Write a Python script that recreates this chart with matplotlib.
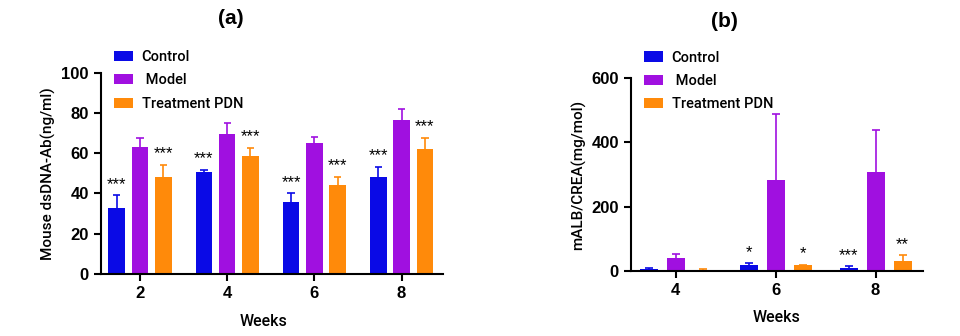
import matplotlib.pyplot as plt
import numpy as np

# panel (a) data
weeks_a = ['2', '4', '6', '8']
control_a = [33, 50.5, 36, 48]
control_a_err = [6, 1.3, 4, 5.3]
model_a = [63, 69.7, 65, 76.8]
model_a_err = [4.7, 5.4, 3.3, 5.2]
treat_a = [48.4, 58.5, 44.4, 61.9]
treat_a_err = [6, 4.2, 3.9, 5.8]
stars_control_a = ['***', '***', '***', '***']
stars_treat_a = ['***', '***', '***', '***']

# panel (b) data
weeks_b = ['4', '6', '8']
control_b = [7, 18, 10]
control_b_err = [2, 6, 6]
model_b = [40, 283, 307]
model_b_err = [12, 206, 131]
treat_b = [5, 18, 32]
treat_b_err = [1, 2, 18]
stars_control_b = ['', '*', '***']
stars_treat_b = ['', '*', '**']

series_names = ['Control', ' Model', 'Treatment PDN']
colors = ['#0a0ae6', '#a010e0', '#ff8a0a']

plt.rcParams['font.family'] = ['Liberation Sans', 'DejaVu Sans']
label_font = ['Roboto', 'DejaVu Sans']

fig = plt.figure(figsize=(9.6, 3.36), dpi=100)
ax1 = fig.add_axes([0.105, 0.185, 0.356, 0.598])
ax2 = fig.add_axes([0.657, 0.193, 0.304, 0.575])


def draw(ax, cats, vals, errs, stars_c, stars_t, width, off, ymax, step, leg_y):
    x = np.arange(len(cats))
    cap = width * 0.22
    for i in range(3):
        xs = x + (i - 1) * off
        ax.bar(xs, vals[i], width, color=colors[i], label=series_names[i], zorder=2)
        tops = np.array(vals[i]) + np.array(errs[i])
        ax.vlines(xs, vals[i], tops, color=colors[i], lw=1.2, zorder=1)
        ax.hlines(tops, xs - cap, xs + cap, color=colors[i], lw=1.2, zorder=1)
    pad = ymax * 0.055
    for j in range(len(cats)):
        if stars_c[j]:
            ax.text(x[j] - off, vals[0][j] + errs[0][j] + pad, stars_c[j],
                    ha='center', va='center', fontsize=12)
        if stars_t[j]:
            ax.text(x[j] + off, vals[2][j] + errs[2][j] + pad, stars_t[j],
                    ha='center', va='center', fontsize=12)
    ax.set_xticks(x)
    ax.set_xticklabels(cats, fontsize=12, fontweight='bold')
    ax.set_xlim(-0.45, len(cats) - 1 + 0.47)
    ax.set_ylim(0, ymax)
    ax.set_yticks(np.arange(0, ymax + 1, step))
    for lab in ax.get_yticklabels():
        lab.set_fontsize(12)
        lab.set_fontweight('bold')
    ax.spines['top'].set_visible(False)
    ax.spines['right'].set_visible(False)
    ax.spines['left'].set_linewidth(1.5)
    ax.spines['bottom'].set_linewidth(1.5)
    ax.tick_params(width=1.5, length=5)
    ax.set_xlabel('Weeks', fontsize=11.5, labelpad=9, family=label_font, fontweight='medium')
    ax.legend(loc='upper left', bbox_to_anchor=(0.0, leg_y), frameon=False,
              prop={'family': label_font, 'size': 10.5, 'weight': 'medium'},
              handlelength=1.3, handleheight=0.7, handletextpad=0.6, labelspacing=0.65)


draw(ax1, weeks_a, [control_a, model_a, treat_a], [control_a_err, model_a_err, treat_a_err],
     stars_control_a, stars_treat_a, 0.19, 0.267, 100, 20, 1.18)
ax1.set_ylabel('Mouse dsDNA-Ab(ng/ml)', fontsize=11, family=label_font, fontweight='medium')
ax1.set_title('(a)', fontsize=15, fontweight='bold', x=0.38, y=1.2)
ax1.xaxis.set_label_coords(0.475, -0.2)

draw(ax2, weeks_b, [control_b, model_b, treat_b], [control_b_err, model_b_err, treat_b_err],
     stars_control_b, stars_treat_b, 0.18, 0.27, 600, 200, 1.21)
ax2.set_ylabel('mALB/CREA(mg/mol)', fontsize=11, family=label_font, fontweight='medium')
ax2.set_title('(b)', fontsize=15, fontweight='bold', x=0.32, y=1.22)

fig.savefig('out.png', dpi=100)
